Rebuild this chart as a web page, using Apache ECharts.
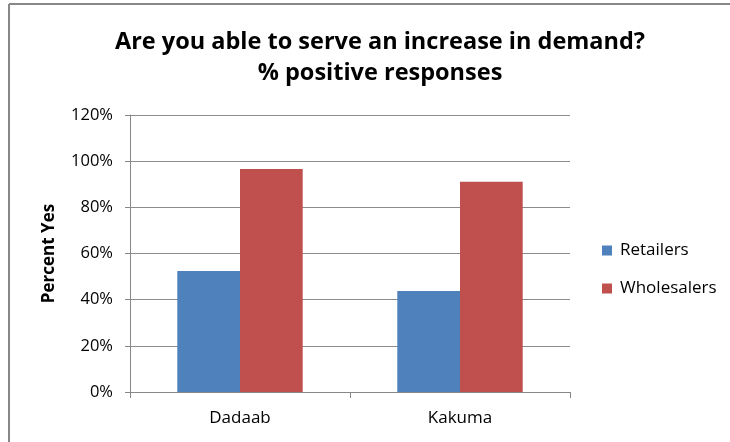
<!DOCTYPE html>
<html>
<head>
<meta charset="utf-8">
<style>
  html, body { margin: 0; padding: 0; background: #fff; }
  #chart { width: 730px; height: 442px; }
</style>
<script src="https://cdn.jsdelivr.net/npm/echarts@6/dist/echarts.min.js"></script>
</head>
<body>
<div id="chart"></div>
<script>
// Survey results: share of traders answering "yes"
const categories = ['Dadaab', 'Kakuma'];
const retailers = [52.4, 43.8];
const wholesalers = [96.6, 91.1];
const yTicks = [0, 20, 40, 60, 80, 100, 120];

const font = '"Open Sans", "Noto Sans", sans-serif';
const chart = echarts.init(document.getElementById('chart'), null, { renderer: 'canvas' });

chart.setOption({
  animation: false,
  backgroundColor: '#ffffff',
  graphic: [
    { type: 'line', shape: { x1: 9, y1: 4, x2: 730, y2: 4 }, style: { stroke: '#878787', lineWidth: 2 } },
    { type: 'line', shape: { x1: 9, y1: 4, x2: 9, y2: 442 }, style: { stroke: '#878787', lineWidth: 2 } }
  ],
  title: {
    text: 'Are you able to serve an increase in demand?\n% positive responses',
    left: 375,
    textAlign: 'center',
    top: 22,
    textStyle: {
      fontFamily: font,
      fontWeight: 'bold',
      fontSize: 23.5,
      lineHeight: 31,
      color: '#000'
    }
  },
  legend: {
    orient: 'vertical',
    left: 602,
    top: 242,
    padding: 0,
    itemWidth: 10,
    itemHeight: 10,
    itemGap: 21,
    icon: 'rect',
    textStyle: { fontFamily: font, fontSize: 17, color: '#000', padding: [0, 0, 0, 3] },
    data: ['Retailers', 'Wholesalers']
  },
  grid: { left: 130, top: 115, right: 160, bottom: 50 },
  xAxis: {
    type: 'category',
    data: categories,
    axisLine: { lineStyle: { color: '#888', width: 1 } },
    axisTick: { show: true, length: 6, lineStyle: { color: '#888' } },
    axisLabel: { fontFamily: font, fontSize: 17, color: '#000', margin: 18 }
  },
  yAxis: {
    type: 'value',
    min: 0,
    max: 120,
    interval: 20,
    name: 'Percent Yes',
    nameLocation: 'middle',
    nameGap: 72,
    nameTextStyle: { fontFamily: font, fontSize: 17, fontWeight: 'bold', color: '#000' },
    axisLine: { show: true, lineStyle: { color: '#888', width: 1 } },
    axisTick: { show: true, length: 5, lineStyle: { color: '#888' } },
    splitLine: { lineStyle: { color: '#8c8c8c', width: 1 } },
    axisLabel: {
      fontFamily: font,
      fontSize: 16.5,
      color: '#000',
      margin: 17,
      formatter: v => (yTicks.includes(v) ? v + '%' : '')
    }
  },
  series: [
    {
      name: 'Retailers',
      type: 'bar',
      data: retailers,
      barGap: '0%',
      barCategoryGap: '43%',
      itemStyle: { color: '#4f81bd' }
    },
    {
      name: 'Wholesalers',
      type: 'bar',
      data: wholesalers,
      barGap: '0%',
      barCategoryGap: '43%',
      itemStyle: { color: '#c0504d' }
    }
  ]
});
</script>
</body>
</html>
